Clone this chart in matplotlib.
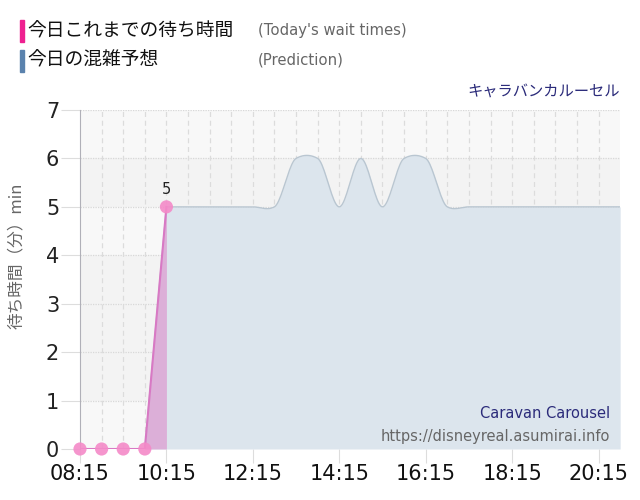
import matplotlib
matplotlib.use("Agg")
import matplotlib.pyplot as plt
import numpy as np

plt.rcParams['font.family'] = ['Noto Sans CJK JP', 'DejaVu Sans']

# ---- data ----
actual_times = ["08:15", "08:45", "09:15", "09:45", "10:15"]
actual_values = [0, 0, 0, 0, 5]

pred_times = ["09:45", "10:15", "10:45", "11:15", "11:45", "12:15", "12:45",
              "13:15", "13:45", "14:15", "14:45", "15:15", "15:45", "16:15",
              "16:45", "17:15", "17:45", "18:15", "18:45", "19:15", "19:45",
              "20:15", "20:45"]
pred_values = [0, 5, 5, 5, 5, 5, 5, 6, 6, 5, 6, 5, 6, 6, 5, 5, 5, 5, 5, 5, 5, 5, 5]

xtick_labels = ["08:15", "10:15", "12:15", "14:15", "16:15", "18:15", "20:15"]
ytick_values = [0, 1, 2, 3, 4, 5, 6, 7]


def to_h(t):
    h, m = t.split(":")
    return int(h) + int(m) / 60.0


def smooth(xs, ys, n=20, tension=0.5):
    xs = np.asarray(xs, float)
    ys = np.asarray(ys, float)
    m = np.zeros_like(ys)
    for i in range(2, len(ys) - 1):
        m[i] = tension * (ys[i + 1] - ys[i - 1]) / (xs[i + 1] - xs[i - 1])
    ox, oy = [], []
    for i in range(len(xs) - 1):
        h = xs[i + 1] - xs[i]
        t = np.linspace(0, 1, n, endpoint=False)
        h00 = 2 * t**3 - 3 * t**2 + 1
        h10 = t**3 - 2 * t**2 + t
        h01 = -2 * t**3 + 3 * t**2
        h11 = t**3 - t**2
        y = h00 * ys[i] + h10 * h * m[i] + h01 * ys[i + 1] + h11 * h * m[i + 1]
        ox.extend(xs[i] + t * h)
        oy.extend(y)
    ox.append(xs[-1])
    oy.append(ys[-1])
    return np.array(ox), np.array(oy)


ax_x = [to_h(t) for t in actual_times]
px = [to_h(t) for t in pred_times]
sx, sy = smooth(px, pred_values)
# keep the ramp straight
ramp = sx <= px[1]
sy[ramp] = np.interp(sx[ramp], px[:2], pred_values[:2])

fig = plt.figure(figsize=(6.4, 5.0), dpi=100)
ax = fig.add_axes([0.125, 0.102, 0.844, 0.678])

x0, x1 = to_h("08:15"), to_h("20:45")
ax.set_xlim(x0, x1)
ax.set_ylim(0, 7)

# background bands
bands = [(0, 1, '#f8f8f8'), (1, 4, '#f3f3f3'), (4, 5, '#f8f8f8'),
         (5, 6, '#f3f3f3'), (6, 7, '#f8f8f8')]
for lo, hi, c in bands:
    ax.axhspan(lo, hi, color=c, zorder=0, lw=0)

# grid
for y in ytick_values[1:]:
    ax.axhline(y, color='#d8d8d8', lw=0.9, ls=(0, (1, 1)), zorder=1)
t = x0 + 0.5
while t < x1 - 0.01:
    ax.axvline(t, color='#dcdcdc', lw=0.9, ls=(0, (4, 3)), zorder=1)
    t += 0.5

# prediction
ax.fill_between(sx, 0, sy, color='#dce5ed', zorder=2, lw=0)
ax.plot(sx, sy, color='#b9c6d1', lw=1.0, zorder=3)

# actual
ax.fill_between(ax_x, 0, actual_values, color='#dcaad6', alpha=0.9, zorder=4, lw=0)
ax.plot(ax_x, actual_values, color='#d879c4', lw=1.5, zorder=5)
ax.scatter(ax_x, actual_values, s=90, color='#f48ac8', alpha=0.9, zorder=6,
           clip_on=False, edgecolors='none')
ax.annotate(str(actual_values[-1]), (ax_x[-1], actual_values[-1]), xytext=(0, 7),
            textcoords='offset points', ha='center', va='bottom', fontsize=10.5,
            color='#222222', family='DejaVu Sans')

# axes style
for s in ['top', 'right', 'bottom']:
    ax.spines[s].set_visible(False)
ax.spines['left'].set_color('#b0b0b8')

xt = [to_h(t) for t in xtick_labels]
ax.set_xticks(xt)
ax.set_xticklabels(xtick_labels, fontsize=15, family='DejaVu Sans', color='#111111')
ax.set_yticks(ytick_values)
ax.set_yticklabels([str(v) for v in ytick_values], fontsize=15,
                   family='DejaVu Sans', color='#222222')
ax.tick_params(axis='x', length=10, color='#dddddd', pad=1)
ax.tick_params(axis='y', length=14, color='#dddddd', pad=1)

fig.text(16 / 640, 1 - 256 / 500, '待ち時間（分）min', fontsize=12, color='#666666',
         rotation=90, ha='center', va='center')

# legend-like header
fig.patches.append(plt.Rectangle((20 / 640, 1 - 42 / 500), 4 / 640, 22 / 500,
                                 transform=fig.transFigure, color='#ee2090'))
fig.patches.append(plt.Rectangle((20 / 640, 1 - 72 / 500), 4 / 640, 22 / 500,
                                 transform=fig.transFigure, color='#5a82ad'))
fig.text(27 / 640, 1 - 31 / 500, '今日これまでの待ち時間', fontsize=13.5,
         color='#111111', va='center')
fig.text(258 / 640, 1 - 31 / 500, "(Today's wait times)", fontsize=10.7,
         color='#666666', va='center', family='DejaVu Sans')
fig.text(27 / 640, 1 - 60 / 500, '今日の混雑予想', fontsize=13.5,
         color='#111111', va='center')
fig.text(258 / 640, 1 - 60 / 500, "(Prediction)", fontsize=10.7,
         color='#666666', va='center', family='DejaVu Sans')
fig.text(620 / 640, 1 - 91 / 500, 'キャラバンカルーセル', fontsize=11,
         color='#2b2b7a', va='center', ha='right')

fig.text(610 / 640, 1 - 414 / 500, 'Caravan Carousel', fontsize=10.5,
         color='#2b2b7a', va='center', ha='right', family='DejaVu Sans')
fig.text(610 / 640, 1 - 436 / 500, 'https://disneyreal.asumirai.info', fontsize=10.5,
         color='#666666', va='center', ha='right', family='DejaVu Sans')

fig.savefig('out.png', dpi=100, facecolor='white')
